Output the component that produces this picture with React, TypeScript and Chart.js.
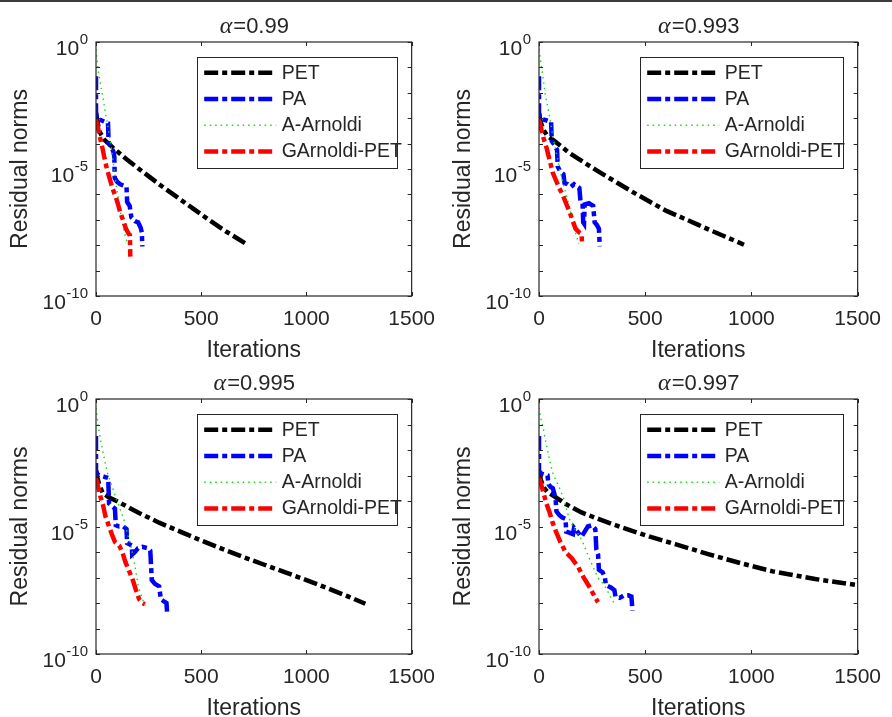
import React, { useEffect, useRef } from "react";
import { Chart, registerables } from "chart.js";
Chart.register(...registerables);

const FONT = '"Liberation Sans", Arial, Helvetica, sans-serif';
const SERIF = '"Liberation Serif", "Times New Roman", serif';
const AXIS_COLOR = "#262626";
Chart.defaults.font.family = FONT;

// ---------- data: [iteration, log10(residual norm)] ----------
type Pair = [number, number];

const SERIES_NAMES = ["PET", "PA", "A-Arnoldi", "GArnoldi-PET"];
const ALPHAS = ["0.99", "0.993", "0.995", "0.997"];
const X_TICKS = [0, 500, 1000, 1500];
const Y_LABEL_EXPONENTS = [0, -5, -10];
const Y_TICK_EXPONENTS = [0, -1, -2, -3, -4, -5, -6, -7, -8, -9, -10];

// alpha = 0.99
const PET_099: Pair[] = [[0,-2.8],[8,-3.2],[18,-3.55],[40,-3.85],[79,-4.15],[150,-4.65],[232,-5.17],[300,-5.6],[384,-6.1],[460,-6.55],[536,-7.0],[620,-7.47],[714,-7.95]];
const PA_099: Pair[] = [[0,-1.35],[0,-2.75],[4,-3.0],[15,-3.05],[30,-3.1],[45,-3.15],[57,-3.2],[60,-3.95],[70,-4.1],[82,-4.3],[87,-4.5],[89,-5.35],[100,-5.5],[115,-5.6],[130,-5.65],[145,-5.7],[148,-6.3],[160,-6.45],[168,-6.9],[185,-7.05],[200,-7.1],[212,-7.3],[218,-7.5],[220,-8.05]];
const ARN_099: Pair[] = [[0,-0.3],[6,-0.8],[12,-1.2],[20,-1.6],[33,-2.2],[45,-2.8],[56,-3.3],[68,-3.9],[80,-4.6],[94,-5.5],[110,-6.4],[125,-7.1],[138,-7.6],[148,-7.9]];
const GAP_099: Pair[] = [[0,-3.05],[10,-3.4],[20,-3.8],[30,-4.15],[41,-4.6],[52,-5.0],[64,-5.35],[80,-5.8],[94,-6.1],[105,-6.4],[117,-6.75],[130,-7.05],[142,-7.35],[155,-7.55],[161,-7.6],[163,-8.45]];

// alpha = 0.993
const PET_0993: Pair[] = [[0,-2.8],[8,-3.15],[20,-3.45],[40,-3.7],[67,-3.86],[140,-4.35],[219,-4.78],[300,-5.2],[372,-5.56],[450,-5.95],[524,-6.3],[600,-6.65],[677,-6.93],[750,-7.2],[814,-7.44],[890,-7.71],[965,-7.98]];
const PA_0993: Pair[] = [[0,-1.35],[0,-2.8],[5,-3.0],[20,-3.05],[40,-3.1],[57,-3.15],[60,-3.9],[72,-4.05],[85,-4.25],[88,-4.9],[100,-5.1],[115,-5.2],[120,-5.55],[135,-5.6],[150,-5.7],[165,-5.6],[180,-5.7],[190,-5.75],[195,-6.25],[205,-6.35],[208,-7.1],[212,-7.15],[215,-6.4],[235,-6.35],[255,-6.45],[262,-7.1],[272,-7.2],[282,-7.35],[286,-8.05]];
const ARN_0993: Pair[] = [[0,-0.3],[7,-0.7],[14,-1.1],[22,-1.6],[30,-2.1],[42,-2.6],[52,-3.05],[67,-3.8],[80,-4.3],[92,-4.8],[108,-5.4],[125,-5.9],[143,-6.5],[160,-7.1],[175,-7.6],[188,-7.95]];
const GAP_0993: Pair[] = [[0,-3.05],[10,-3.4],[20,-3.75],[35,-4.15],[50,-4.65],[65,-5.15],[80,-5.45],[95,-5.75],[111,-6.0],[125,-6.3],[142,-6.65],[157,-7.0],[172,-7.35],[190,-7.5],[200,-7.55],[203,-7.95]];

// alpha = 0.995
const PET_0995: Pair[] = [[0,-2.8],[8,-3.15],[20,-3.45],[33,-3.7],[60,-3.85],[110,-4.05],[200,-4.45],[300,-4.85],[400,-5.2],[500,-5.55],[600,-5.88],[700,-6.2],[800,-6.5],[900,-6.8],[1000,-7.1],[1100,-7.42],[1200,-7.75],[1280,-8.03]];
const PA_0995: Pair[] = [[0,-1.45],[0,-2.8],[5,-2.95],[20,-3.0],[40,-3.05],[58,-3.1],[62,-4.1],[75,-4.2],[90,-4.3],[94,-4.95],[110,-5.0],[130,-5.0],[145,-5.1],[148,-5.65],[160,-5.7],[170,-5.75],[172,-6.1],[185,-6.0],[200,-5.85],[220,-5.8],[245,-5.85],[258,-5.95],[265,-7.1],[280,-7.25],[300,-7.35],[308,-7.85],[325,-7.95],[335,-8.0],[338,-8.4]];
const ARN_0995: Pair[] = [[0,-0.35],[11,-1.1],[26,-1.8],[41,-2.4],[56,-2.95],[79,-3.5],[95,-3.9],[110,-4.2],[133,-4.75],[150,-5.3],[165,-5.7],[186,-6.6],[200,-7.3],[218,-7.8],[235,-8.1]];
const GAP_0995: Pair[] = [[0,-3.1],[10,-3.45],[20,-3.8],[33,-4.15],[45,-4.6],[60,-4.95],[75,-5.3],[90,-5.6],[110,-5.75],[125,-6.0],[140,-6.4],[155,-6.7],[175,-7.1],[190,-7.5],[205,-7.85],[220,-8.0],[232,-8.05]];

// alpha = 0.997
const PET_0997: Pair[] = [[0,-2.8],[8,-3.15],[20,-3.45],[40,-3.65],[65,-3.78],[126,-4.12],[200,-4.45],[279,-4.7],[350,-4.92],[431,-5.15],[530,-5.42],[645,-5.7],[796,-6.08],[950,-6.44],[1100,-6.76],[1300,-7.06],[1500,-7.3]];
const PA_0997: Pair[] = [[0,-1.45],[0,-2.8],[5,-2.9],[20,-2.95],[40,-3.0],[45,-3.35],[55,-3.45],[65,-3.5],[78,-3.9],[82,-4.4],[95,-4.55],[110,-4.65],[125,-4.7],[128,-5.2],[145,-5.25],[160,-5.3],[165,-5.05],[185,-5.25],[200,-5.4],[215,-5.2],[230,-5.0],[250,-4.95],[265,-5.1],[270,-5.9],[278,-6.1],[282,-6.7],[300,-6.8],[310,-7.0],[315,-7.3],[340,-7.4],[355,-7.5],[360,-7.75],[380,-7.8],[400,-7.7],[420,-7.7],[435,-7.75],[440,-8.3]];
const ARN_0997: Pair[] = [[0,-0.35],[10,-0.8],[20,-1.15],[30,-1.6],[40,-2.0],[50,-2.4],[65,-2.9],[80,-3.2],[100,-3.55],[120,-4.0],[140,-4.65],[160,-5.0],[185,-5.3],[205,-5.6],[232,-6.15],[255,-6.6],[280,-7.05],[308,-7.3],[330,-7.65],[355,-8.03]];
const GAP_0997: Pair[] = [[0,-3.1],[10,-3.35],[20,-3.65],[35,-4.1],[50,-4.45],[64,-4.85],[80,-5.2],[100,-5.6],[125,-6.0],[155,-6.25],[185,-6.6],[210,-7.0],[240,-7.4],[262,-7.75],[278,-7.97]];

const PANEL_DATA: Pair[][][] = [
  [PET_099, PA_099, ARN_099, GAP_099],
  [PET_0993, PA_0993, ARN_0993, GAP_0993],
  [PET_0995, PA_0995, ARN_0995, GAP_0995],
  [PET_0997, PA_0997, ARN_0997, GAP_0997],
];

// ---------- styles ----------
const SERIES_STYLE = [
  { color: "#000000", width: 4.5, dash: [14, 4, 5, 4], order: 3 },
  { color: "#0000ff", width: 4.5, dash: [14, 4, 5, 4], order: 2 },
  { color: "#00e600", width: 1.4, dash: [1.5, 4], order: 1 },
  { color: "#ff0000", width: 4.5, dash: [14, 4, 5, 4], order: 0 },
];

// ---------- layout ----------
const LAYOUT = [
  { left: 0, top: 0, w: 446, h: 358, yW: 96, padTop: 42, padRight: 22, xH: 62, yTitlePad: 7, xTitlePadB: -4 },
  { left: 446, top: 0, w: 446, h: 358, yW: 93, padTop: 42, padRight: 25, xH: 62, yTitlePad: 3.5, xTitlePadB: -4 },
  { left: 0, top: 358, w: 446, h: 359, yW: 96, padTop: 41, padRight: 22, xH: 63, yTitlePad: 7, xTitlePadB: -3 },
  { left: 446, top: 358, w: 446, h: 359, yW: 93, padTop: 41, padRight: 25, xH: 63, yTitlePad: 3.5, xTitlePadB: -3 },
];

const decorPlugin = {
  id: "decor",
  afterDraw(chart: any, _args: any, opts: any) {
    const { ctx, chartArea: ca, scales } = chart;
    const xs = scales.x;
    const ys = scales.y;
    ctx.save();

    // legend
    const lx = ca.left + 100.7;
    const ly = ca.top + 14.7;
    const lw = ca.right - 15 - lx;
    const lh = 110.5;
    ctx.fillStyle = "#ffffff";
    ctx.fillRect(lx, ly, lw, lh);
    ctx.setLineDash([]);
    ctx.lineWidth = 1;
    ctx.strokeStyle = AXIS_COLOR;
    ctx.strokeRect(Math.round(lx) + 0.5, Math.round(ly) + 0.5, Math.round(lw), Math.round(lh));
    chart.data.datasets.forEach((ds: any, i: number) => {
      const yy = ly + 16 + 26.3 * i;
      ctx.beginPath();
      ctx.setLineDash(ds.borderDash || []);
      ctx.lineWidth = ds.borderWidth;
      ctx.strokeStyle = ds.borderColor;
      ctx.lineCap = "butt";
      ctx.moveTo(lx + 7.5, yy);
      ctx.lineTo(lx + 79.5, yy);
      ctx.stroke();
      ctx.setLineDash([]);
      ctx.fillStyle = AXIS_COLOR;
      ctx.font = `19.5px ${FONT}`;
      ctx.textAlign = "left";
      ctx.textBaseline = "middle";
      ctx.fillText(ds.label, lx + 85, yy + 0.5);
    });

    // box
    ctx.setLineDash([]);
    ctx.strokeStyle = AXIS_COLOR;
    ctx.lineWidth = 1.2;
    ctx.strokeRect(ca.left, ca.top, ca.right - ca.left, ca.bottom - ca.top);

    // inward tick marks
    ctx.lineWidth = 1;
    const tl = 4;
    ctx.beginPath();
    for (const e of Y_TICK_EXPONENTS) {
      const py = Math.round(ys.getPixelForValue(Math.pow(10, e))) + 0.5;
      ctx.moveTo(ca.left, py);
      ctx.lineTo(ca.left + tl, py);
      ctx.moveTo(ca.right, py);
      ctx.lineTo(ca.right - tl, py);
    }
    for (const v of X_TICKS) {
      const px = Math.round(xs.getPixelForValue(v)) + 0.5;
      ctx.moveTo(px, ca.bottom);
      ctx.lineTo(px, ca.bottom - tl);
      ctx.moveTo(px, ca.top);
      ctx.lineTo(px, ca.top + tl);
    }
    ctx.stroke();

    // y tick labels 10^e
    ctx.fillStyle = AXIS_COLOR;
    ctx.textAlign = "right";
    ctx.textBaseline = "alphabetic";
    for (const e of Y_LABEL_EXPONENTS) {
      const py = ys.getPixelForValue(Math.pow(10, e));
      const expStr = e === 0 ? "0" : "-" + Math.abs(e);
      const xr = ca.left - 8;
      ctx.font = `15px ${FONT}`;
      const ew = ctx.measureText(expStr).width;
      ctx.fillText(expStr, xr, py + 2);
      ctx.font = `21px ${FONT}`;
      ctx.fillText("10", xr - ew - 0.5, py + 13);
    }

    // title  alpha=...
    const alpha = opts.alpha as string;
    ctx.textAlign = "left";
    ctx.font = `italic 24px ${SERIF}`;
    const aw = ctx.measureText("\u03b1").width;
    ctx.font = `22px ${FONT}`;
    const rest = "=" + alpha;
    const rw = ctx.measureText(rest).width;
    const cx = (ca.left + ca.right) / 2;
    const x0 = cx - (aw + rw) / 2;
    const by = ca.top - 9;
    ctx.font = `italic 24px ${SERIF}`;
    ctx.fillText("\u03b1", x0, by);
    ctx.font = `22px ${FONT}`;
    ctx.fillText(rest, x0 + aw + 1, by);

    ctx.restore();
  },
};

function Panel({ index }: { index: number }) {
  const ref = useRef<HTMLCanvasElement>(null);
  const L = LAYOUT[index];
  useEffect(() => {
    const canvas = ref.current;
    if (!canvas) return;
    const datasets = PANEL_DATA[index].map((series, i) => ({
      label: SERIES_NAMES[i],
      data: series.map(([it, lg]) => ({ x: it, y: Math.pow(10, lg) })),
      borderColor: SERIES_STYLE[i].color,
      backgroundColor: SERIES_STYLE[i].color,
      borderWidth: SERIES_STYLE[i].width,
      borderDash: SERIES_STYLE[i].dash,
      borderCapStyle: "butt",
      borderJoinStyle: "miter",
      pointRadius: 0,
      tension: 0,
      fill: false,
      order: SERIES_STYLE[i].order,
    }));
    const chart = new Chart(canvas, {
      type: "line",
      data: { datasets } as any,
      options: {
        animation: false,
        responsive: false,
        events: [],
        layout: { padding: { left: 0, top: L.padTop, right: L.padRight, bottom: 0 } },
        plugins: {
          legend: { display: false },
          tooltip: { enabled: false },
          decor: { alpha: ALPHAS[index] },
        } as any,
        scales: {
          x: {
            type: "linear",
            min: 0,
            max: 1500,
            ticks: {
              stepSize: 500,
              autoSkip: false,
              maxRotation: 0,
              padding: 11,
              color: AXIS_COLOR,
              font: { size: 21, family: FONT },
              callback: (v: any) => String(v),
            },
            grid: { display: false, drawTicks: false },
            border: { display: false },
            title: {
              display: true,
              text: "Iterations",
              color: AXIS_COLOR,
              font: { size: 23, family: FONT, lineHeight: 1 },
              padding: { top: 0, bottom: L.xTitlePadB },
            },
            afterFit: (s: any) => {
              s.height = L.xH;
            },
          },
          y: {
            type: "logarithmic",
            min: 1e-10,
            max: 1,
            ticks: { display: false },
            grid: { display: false, drawTicks: false },
            border: { display: false },
            title: {
              display: true,
              text: "Residual norms",
              color: AXIS_COLOR,
              font: { size: 23, family: FONT },
              padding: { top: L.yTitlePad, bottom: 0 },
            },
            afterFit: (s: any) => {
              s.width = L.yW;
            },
          },
        } as any,
      },
      plugins: [decorPlugin as any],
    });
    return () => chart.destroy();
  }, [index]);
  return (
    <canvas
      ref={ref}
      width={L.w}
      height={L.h}
      style={{ position: "absolute", left: L.left, top: L.top, width: L.w, height: L.h }}
    />
  );
}

export default function App() {
  return (
    <div style={{ position: "absolute", left: 0, top: 0, width: 892, height: 717, background: "#ffffff", overflow: "hidden" }}>
      <div style={{ position: "absolute", left: 0, top: 0, width: 892, height: 2, background: "#3c3c3c" }} />
      {[0, 1, 2, 3].map((i) => (
        <Panel key={i} index={i} />
      ))}
    </div>
  );
}
